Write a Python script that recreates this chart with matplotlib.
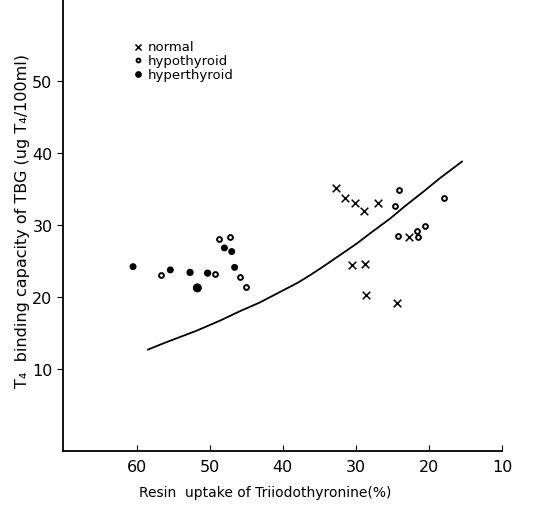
import matplotlib
matplotlib.use("Agg")
import matplotlib.pyplot as plt

# resin uptake (%) / T4 binding capacity
normal_x = [32.7, 31.5, 30.1, 28.9, 27.0, 30.6, 28.8, 28.6, 24.4, 22.7]
normal_y = [35.1, 33.7, 33.0, 32.0, 33.0, 24.5, 24.6, 20.2, 19.2, 28.3]

hypo_x = [24.1, 24.6, 17.9, 24.2, 21.7, 21.5, 20.5,
          56.7, 49.3, 48.7, 47.2, 45.9, 45.0]
hypo_y = [34.9, 32.6, 33.75, 28.5, 29.2, 28.3, 29.8,
          23.0, 23.2, 28.1, 28.3, 22.8, 21.4]

hyper_x = [60.5, 55.4, 52.7, 50.3, 51.7, 48.0, 47.0, 46.6]
hyper_y = [24.2, 23.75, 23.4, 23.3, 21.25, 26.8, 26.3, 24.1]
hyper_s = [16, 16, 18, 18, 30, 16, 16, 16]

curve_x = [58.45, 56.2, 51.8, 48.6, 45.9, 43.2, 41.3, 37.9, 36.3, 34.5,
           32.2, 29.9, 28.1, 25.3, 23.3, 20.8, 18.5, 15.5]
curve_y = [12.68, 13.6, 15.3, 16.7, 18.0, 19.2, 20.2, 22.0, 23.0, 24.2,
           25.8, 27.4, 28.8, 30.9, 32.6, 34.6, 36.5, 38.8]

xticks = [60, 50, 40, 30, 20, 10]
yticks = [10, 20, 30, 40, 50]

fig = plt.figure(figsize=(5.33, 5.06), dpi=100)
ax = fig.add_axes([0.118, 0.107, 0.824, 0.893])

ax.plot(curve_x, curve_y, color='black', linewidth=1.3)
ax.scatter(normal_x, normal_y, marker='x', s=30, color='black', linewidths=1.1, label='normal')
ax.scatter(hypo_x, hypo_y, marker='o', s=12, facecolors='white', edgecolors='black',
           linewidths=1.4, label='hypothyroid')
ax.scatter(hyper_x, hyper_y, marker='o', s=hyper_s, color='black', label='hyperthyroid')

ax.set_xlim(70.1, 10)
ax.set_ylim(-1.4, 61.4)
ax.set_xticks(xticks)
ax.set_yticks(yticks)
ax.tick_params(axis='x', direction='in', length=4, labelsize=11.5, pad=6)
ax.tick_params(axis='y', direction='out', length=4, labelsize=11.5)
for s in ['top', 'right']:
    ax.spines[s].set_visible(False)
ax.spines['left'].set_linewidth(1.3)
ax.spines['bottom'].set_linewidth(1.3)

ax.set_xlabel('Resin  uptake of Triiodothyronine(%)', fontsize=10)
ax.xaxis.set_label_coords(0.46, -0.075)
ax.set_ylabel('T\u2084  binding capacity of TBG (ug T\u2084/100ml)', fontsize=11.5)
ax.yaxis.set_label_coords(-0.075, 0.51)

leg = ax.legend(loc='upper left', bbox_to_anchor=(0.13, 0.935), frameon=False,
                fontsize=9.5, handletextpad=0.2, labelspacing=0.05, markerscale=0.8,
                handlelength=1.0)

fig.savefig('out.png', dpi=100)
